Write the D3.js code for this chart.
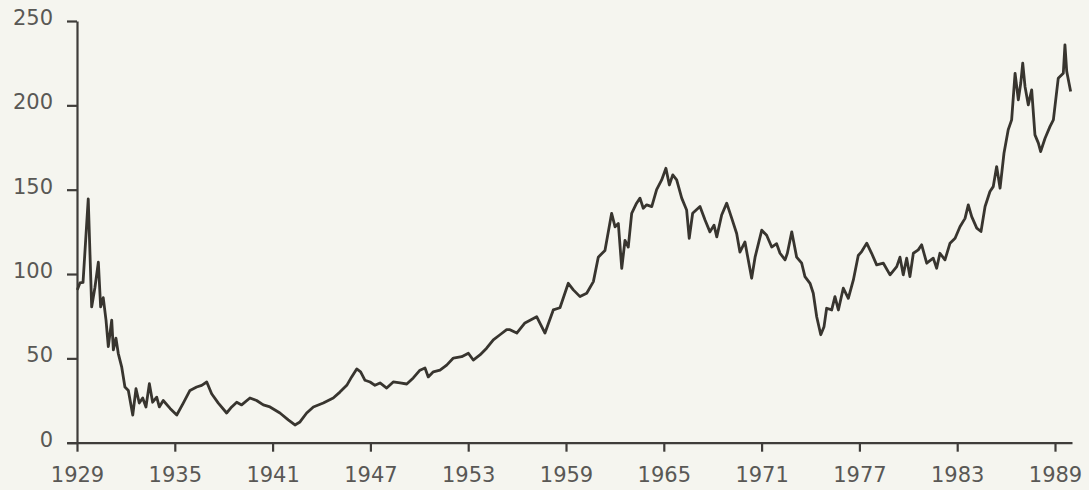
<!DOCTYPE html>
<html>
<head>
<meta charset="utf-8">
<script src="https://cdn.jsdelivr.net/npm/d3@7"></script>
<style>
  html, body { margin: 0; padding: 0; background: #f5f5ef; }
  svg { display: block; }
</style>
</head>
<body>
<svg id="chart" width="1089" height="490"></svg>
<script>
// ---- data (decimal year, index value) ----
const years = [
  1929.02,1929.18,1929.37,1929.69,1929.90,1930.10,1930.31,1930.45,1930.61,1930.78,
  1930.92,1931.13,1931.23,1931.39,1931.53,1931.74,1931.94,1932.15,1932.42,1932.62,
  1932.82,1933.03,1933.23,1933.44,1933.64,1933.89,1934.05,1934.29,1934.71,1935.12,
  1935.52,1935.93,1936.34,1936.65,1936.96,1937.26,1937.67,1938.18,1938.49,1938.80,
  1939.10,1939.61,1940.02,1940.43,1940.84,1941.45,1941.96,1942.37,1942.68,1943.09,
  1943.50,1944.11,1944.72,1945.13,1945.55,1945.85,1946.16,1946.40,1946.67,1946.98,
  1947.28,1947.59,1948.00,1948.40,1948.82,1949.23,1949.63,1950.04,1950.35,1950.55,
  1950.86,1951.27,1951.68,1952.09,1952.60,1953.01,1953.31,1953.72,1954.13,1954.54,
  1954.95,1955.36,1955.56,1955.98,1956.48,1957.20,1957.71,1958.22,1958.63,1959.14,
  1959.45,1959.86,1960.27,1960.68,1960.98,1961.39,1961.80,1962.01,1962.21,1962.42,
  1962.62,1962.82,1963.03,1963.33,1963.54,1963.74,1963.95,1964.26,1964.56,1964.87,
  1965.13,1965.34,1965.55,1965.79,1966.10,1966.40,1966.56,1966.77,1967.22,1967.53,
  1967.83,1968.08,1968.25,1968.55,1968.86,1969.17,1969.47,1969.67,1969.98,1970.18,
  1970.39,1970.60,1971.01,1971.31,1971.62,1971.92,1972.13,1972.44,1972.58,1972.85,
  1973.15,1973.46,1973.66,1973.97,1974.17,1974.38,1974.63,1974.83,1974.99,1975.30,
  1975.50,1975.71,1976.01,1976.32,1976.63,1976.93,1977.14,1977.45,1977.75,1978.06,
  1978.47,1978.88,1979.29,1979.49,1979.69,1979.90,1980.10,1980.31,1980.61,1980.82,
  1981.13,1981.53,1981.74,1981.94,1982.25,1982.56,1982.87,1983.17,1983.48,1983.68,
  1983.89,1984.20,1984.46,1984.71,1985.01,1985.21,1985.42,1985.63,1985.87,1986.13,
  1986.34,1986.55,1986.75,1986.90,1987.02,1987.16,1987.36,1987.57,1987.77,1987.98,
  1988.12,1988.39,1988.69,1988.90,1989.20,1989.51,1989.61,1989.72,1989.96
];
const values = [
  90.6,94.7,95,144.5,80.5,92,107,80.5,86,72.7,
  57,72.7,55,62,53,45,33,31,16.4,32,
  23.5,26.5,21.2,35,24,27,21.2,25,20.3,16.4,
  23.5,31,33,34,36,29,23.5,17.6,21.2,24,
  22.4,26.5,25,22.4,21.2,17.6,13.5,10.5,12.3,17.6,
  21.2,23.5,26.5,30,34,39,43.7,42,37,36,
  34,35.4,32.4,36,35.4,34.8,38.4,43,44.3,39,
  42,43,46,50.2,51,53,49,52,56,61,
  64,67,67,65,71,74.7,65,78.7,80,94.5,
  90.6,86.6,88.6,95.5,110,114,136,128,130,103.4,
  120,116,136,142,145,139,141,140,150,155.8,
  162.7,152.8,158.8,155.8,145,138,121.2,136,140,132,
  125,129,122,135,142,133,124,113,119,108.4,
  97.5,110,126,123,116,118,112.3,108.4,112.3,125,
  110,106.4,98.5,94.5,88.6,74.7,64,68.8,79.7,78.7,
  86.6,78.7,91.6,85.6,96.5,111,113.3,118.3,112.3,105.4,
  106.4,99.5,104.4,110,99.5,109.4,98.5,112.3,114.3,117.3,
  106.4,109.4,103.4,112.3,108.4,118.3,121.2,128,133,141,
  134,127.2,125.2,140,148.9,151.8,163.7,150.9,171.6,185.5,
  191.4,219,203.3,213.2,225,211.2,200.3,209.2,182.5,177.6,
  172.6,180.5,187.4,191.4,216.1,219,235.9,220,208.2
];
const xTicks = [1929,1935,1941,1947,1953,1959,1965,1971,1977,1983,1989];
const yTicks = [0,50,100,150,200,250];

// ---- layout ----
const svg = d3.select("#chart");
const x0 = 77, x1 = 1055;      // pixel positions of 1929 and 1989
const pxPerYear = (x1 - x0) / 60;
const xLeft = 67, xRight = 1072;
const x = d3.scaleLinear()
  .domain([1929 - (x0 - xLeft) / pxPerYear, 1929 + (xRight - x0) / pxPerYear])
  .range([xLeft, xRight]);
const y = d3.scaleLinear().domain([0, 250]).range([442.7, 21]);

const axisColor = "#3f3d3a";
const textColor = "#595855";
const font = "'DejaVu Sans', sans-serif";

// x axis
const gx = svg.append("g")
  .attr("transform", `translate(0,${y(0)})`)
  .call(d3.axisBottom(x).tickValues(xTicks).tickFormat(d3.format("d"))
        .tickSize(9).tickSizeOuter(0).tickPadding(15));
gx.select(".domain").attr("stroke", axisColor).attr("stroke-width", 2.2);
gx.selectAll(".tick line").attr("stroke", axisColor).attr("stroke-width", 2.2);
gx.selectAll(".tick text").attr("fill", textColor)
  .style("font-family", font).style("font-size", "21px");

// y axis
const gy = svg.append("g")
  .attr("transform", `translate(${x(1929)},0)`)
  .call(d3.axisLeft(y).tickValues(yTicks).tickFormat(d3.format("d"))
        .tickSize(10).tickSizeOuter(0).tickPadding(14));
gy.select(".domain").attr("stroke", axisColor).attr("stroke-width", 2.2);
gy.selectAll(".tick line").attr("stroke", axisColor).attr("stroke-width", 2.2);
gy.selectAll(".tick text").attr("fill", textColor).attr("dy", "0.16em")
  .style("font-family", font).style("font-size", "21px");

// series line
const data = years.map((yr, i) => ({ yr, v: values[i] }));
svg.append("path")
  .datum(data)
  .attr("fill", "none")
  .attr("stroke", "#38352f")
  .attr("stroke-width", 2.8)
  .attr("stroke-linejoin", "round")
  .attr("d", d3.line().x(d => x(d.yr)).y(d => y(d.v)));
</script>
</body>
</html>
